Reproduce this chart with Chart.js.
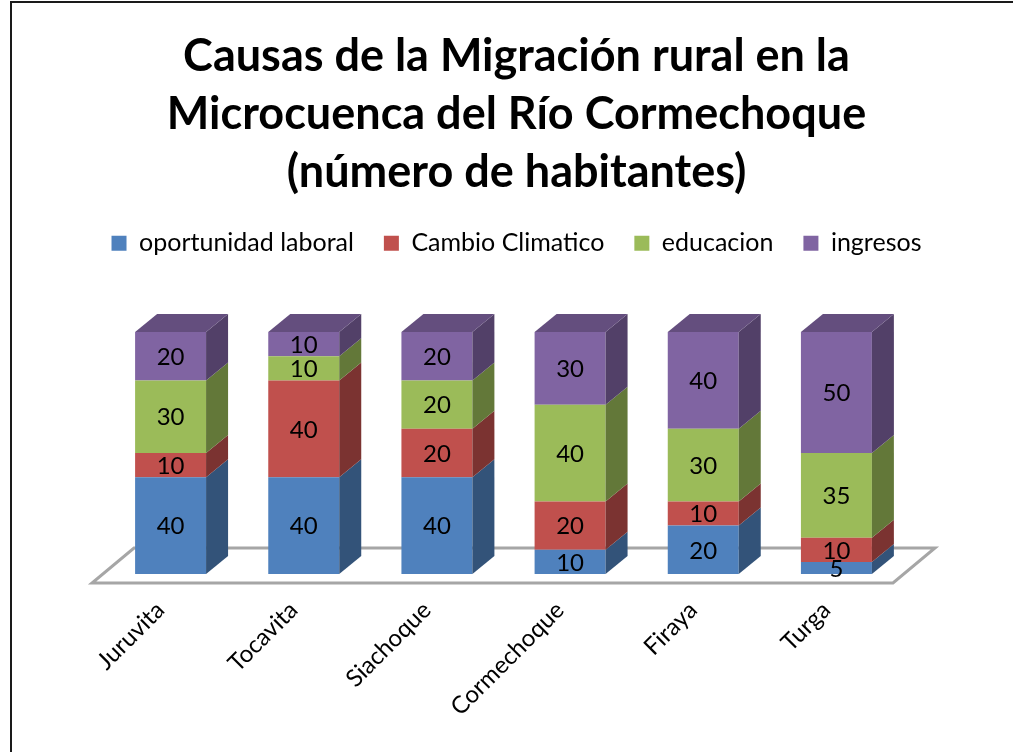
<!DOCTYPE html>
<html>
<head>
<meta charset="utf-8">
<script src="https://cdn.jsdelivr.net/npm/chart.js@4.4.1/dist/chart.umd.min.js"></script>
<style>
  body { margin: 0; background: #fff; }
  canvas { display: block; }
</style>
</head>
<body>
<canvas id="grafico" width="1013" height="752"></canvas>
<script>
// datos
const municipios = ['Juruvita', 'Tocavita', 'Siachoque', 'Cormechoque', 'Firaya', 'Turga'];
const oportunidadLaboral = [40, 40, 40, 10, 20, 5];
const cambioClimatico = [10, 40, 20, 20, 10, 10];
const educacion = [30, 10, 20, 40, 30, 35];
const ingresos = [20, 10, 20, 30, 40, 50];
const titulo = ['Causas de la Migración rural en la', 'Microcuenca del Río Cormechoque', '(número de habitantes)'];

const FUENTE = 'Lato, "Open Sans", sans-serif';
const PROF_X = 22, PROF_Y = -18; // profundidad 3D de las barras

function oscurecer(hex, f) {
  const n = parseInt(hex.slice(1), 16);
  const r = Math.round(((n >> 16) & 255) * f);
  const g = Math.round(((n >> 8) & 255) * f);
  const b = Math.round((n & 255) * f);
  return `rgb(${r},${g},${b})`;
}

function serie(label, data, color) {
  return { label, data, backgroundColor: color, borderWidth: 0,
           barPercentage: 0.533, categoryPercentage: 1 };
}

// marco, piso y caras laterales
const efecto3d = {
  id: 'efecto3d',
  beforeDraw(chart) {
    const ctx = chart.ctx;
    ctx.save();
    ctx.strokeStyle = '#1a1a1a';
    ctx.lineWidth = 2;
    ctx.beginPath();
    ctx.moveTo(11, chart.height);
    ctx.lineTo(11, 2);
    ctx.lineTo(chart.width, 2);
    ctx.stroke();
    ctx.restore();
  },
  beforeDatasetsDraw(chart) {
    const { ctx, chartArea: a } = chart;
    ctx.save();
    ctx.fillStyle = '#fff';
    ctx.strokeStyle = '#a6a6a6';
    ctx.lineWidth = 3;
    ctx.beginPath();
    ctx.moveTo(a.left - 12, a.bottom + 9);
    ctx.lineTo(a.right - 10, a.bottom + 9);
    ctx.lineTo(a.right + 32, a.bottom - 26);
    ctx.lineTo(a.left + 30, a.bottom - 26);
    ctx.closePath();
    ctx.fill();
    ctx.stroke();
    ctx.restore();
  },
  afterDatasetsDraw(chart) {
    const ctx = chart.ctx;
    const n = chart.data.datasets.length;
    ctx.save();
    chart.data.datasets.forEach((ds, i) => {
      const meta = chart.getDatasetMeta(i);
      meta.data.forEach(bar => {
        const der = bar.x + bar.width / 2, izq = bar.x - bar.width / 2;
        ctx.fillStyle = oscurecer(ds.backgroundColor, 0.64);
        ctx.beginPath();
        ctx.moveTo(der, bar.y);
        ctx.lineTo(der + PROF_X, bar.y + PROF_Y);
        ctx.lineTo(der + PROF_X, bar.base + PROF_Y);
        ctx.lineTo(der, bar.base);
        ctx.closePath();
        ctx.fill();
        if (i === n - 1) {
          ctx.fillStyle = oscurecer(ds.backgroundColor, 0.78);
          ctx.beginPath();
          ctx.moveTo(izq, bar.y);
          ctx.lineTo(izq + PROF_X, bar.y + PROF_Y);
          ctx.lineTo(der + PROF_X, bar.y + PROF_Y);
          ctx.lineTo(der, bar.y);
          ctx.closePath();
          ctx.fill();
        }
      });
    });
    // etiquetas de datos
    ctx.fillStyle = '#000';
    ctx.font = '24px ' + FUENTE;
    ctx.textAlign = 'center';
    ctx.textBaseline = 'middle';
    chart.data.datasets.forEach((ds, i) => {
      chart.getDatasetMeta(i).data.forEach((bar, j) => {
        ctx.fillText(String(ds.data[j]), bar.x, (bar.y + bar.base) / 2 + 1);
      });
    });
    ctx.restore();
  }
};

new Chart(document.getElementById('grafico'), {
  type: 'bar',
  data: {
    labels: municipios,
    datasets: [
      serie('oportunidad laboral', oportunidadLaboral, '#4F81BD'),
      serie('Cambio Climatico', cambioClimatico, '#C0504D'),
      serie('educacion', educacion, '#9BBB59'),
      serie('ingresos', ingresos, '#8064A2')
    ]
  },
  options: {
    responsive: false,
    animation: false,
    layout: { padding: { left: 20, right: 0, top: 0, bottom: 0 } },
    plugins: {
      title: {
        display: true,
        text: titulo,
        color: '#000',
        font: { family: FUENTE, size: 45, weight: 'bold', lineHeight: 1.28 },
        padding: { top: 28, bottom: 0 }
      },
      legend: {
        labels: {
          boxWidth: 15, boxHeight: 15, padding: 30, color: '#000',
          font: { family: FUENTE, size: 25 }
        }
      },
      tooltip: { enabled: false }
    },
    scales: {
      x: {
        stacked: true,
        grid: { display: false },
        border: { display: false },
        ticks: { minRotation: 45, maxRotation: 45, color: '#000', padding: 14, labelOffset: -10,
                 font: { family: FUENTE, size: 24 } },
        afterFit(scale) { scale.height = 178; }
      },
      y: {
        stacked: true, min: 0, max: 127.4,
        grid: { display: false }, border: { display: false }, ticks: { display: false },
        afterFit(scale) { scale.width = 84; }
      },
      margenDerecho: {
        position: 'right',
        grid: { display: false }, border: { display: false }, ticks: { display: false },
        afterFit(scale) { scale.width = 110; }
      }
    }
  },
  plugins: [efecto3d]
});
</script>
</body>
</html>
